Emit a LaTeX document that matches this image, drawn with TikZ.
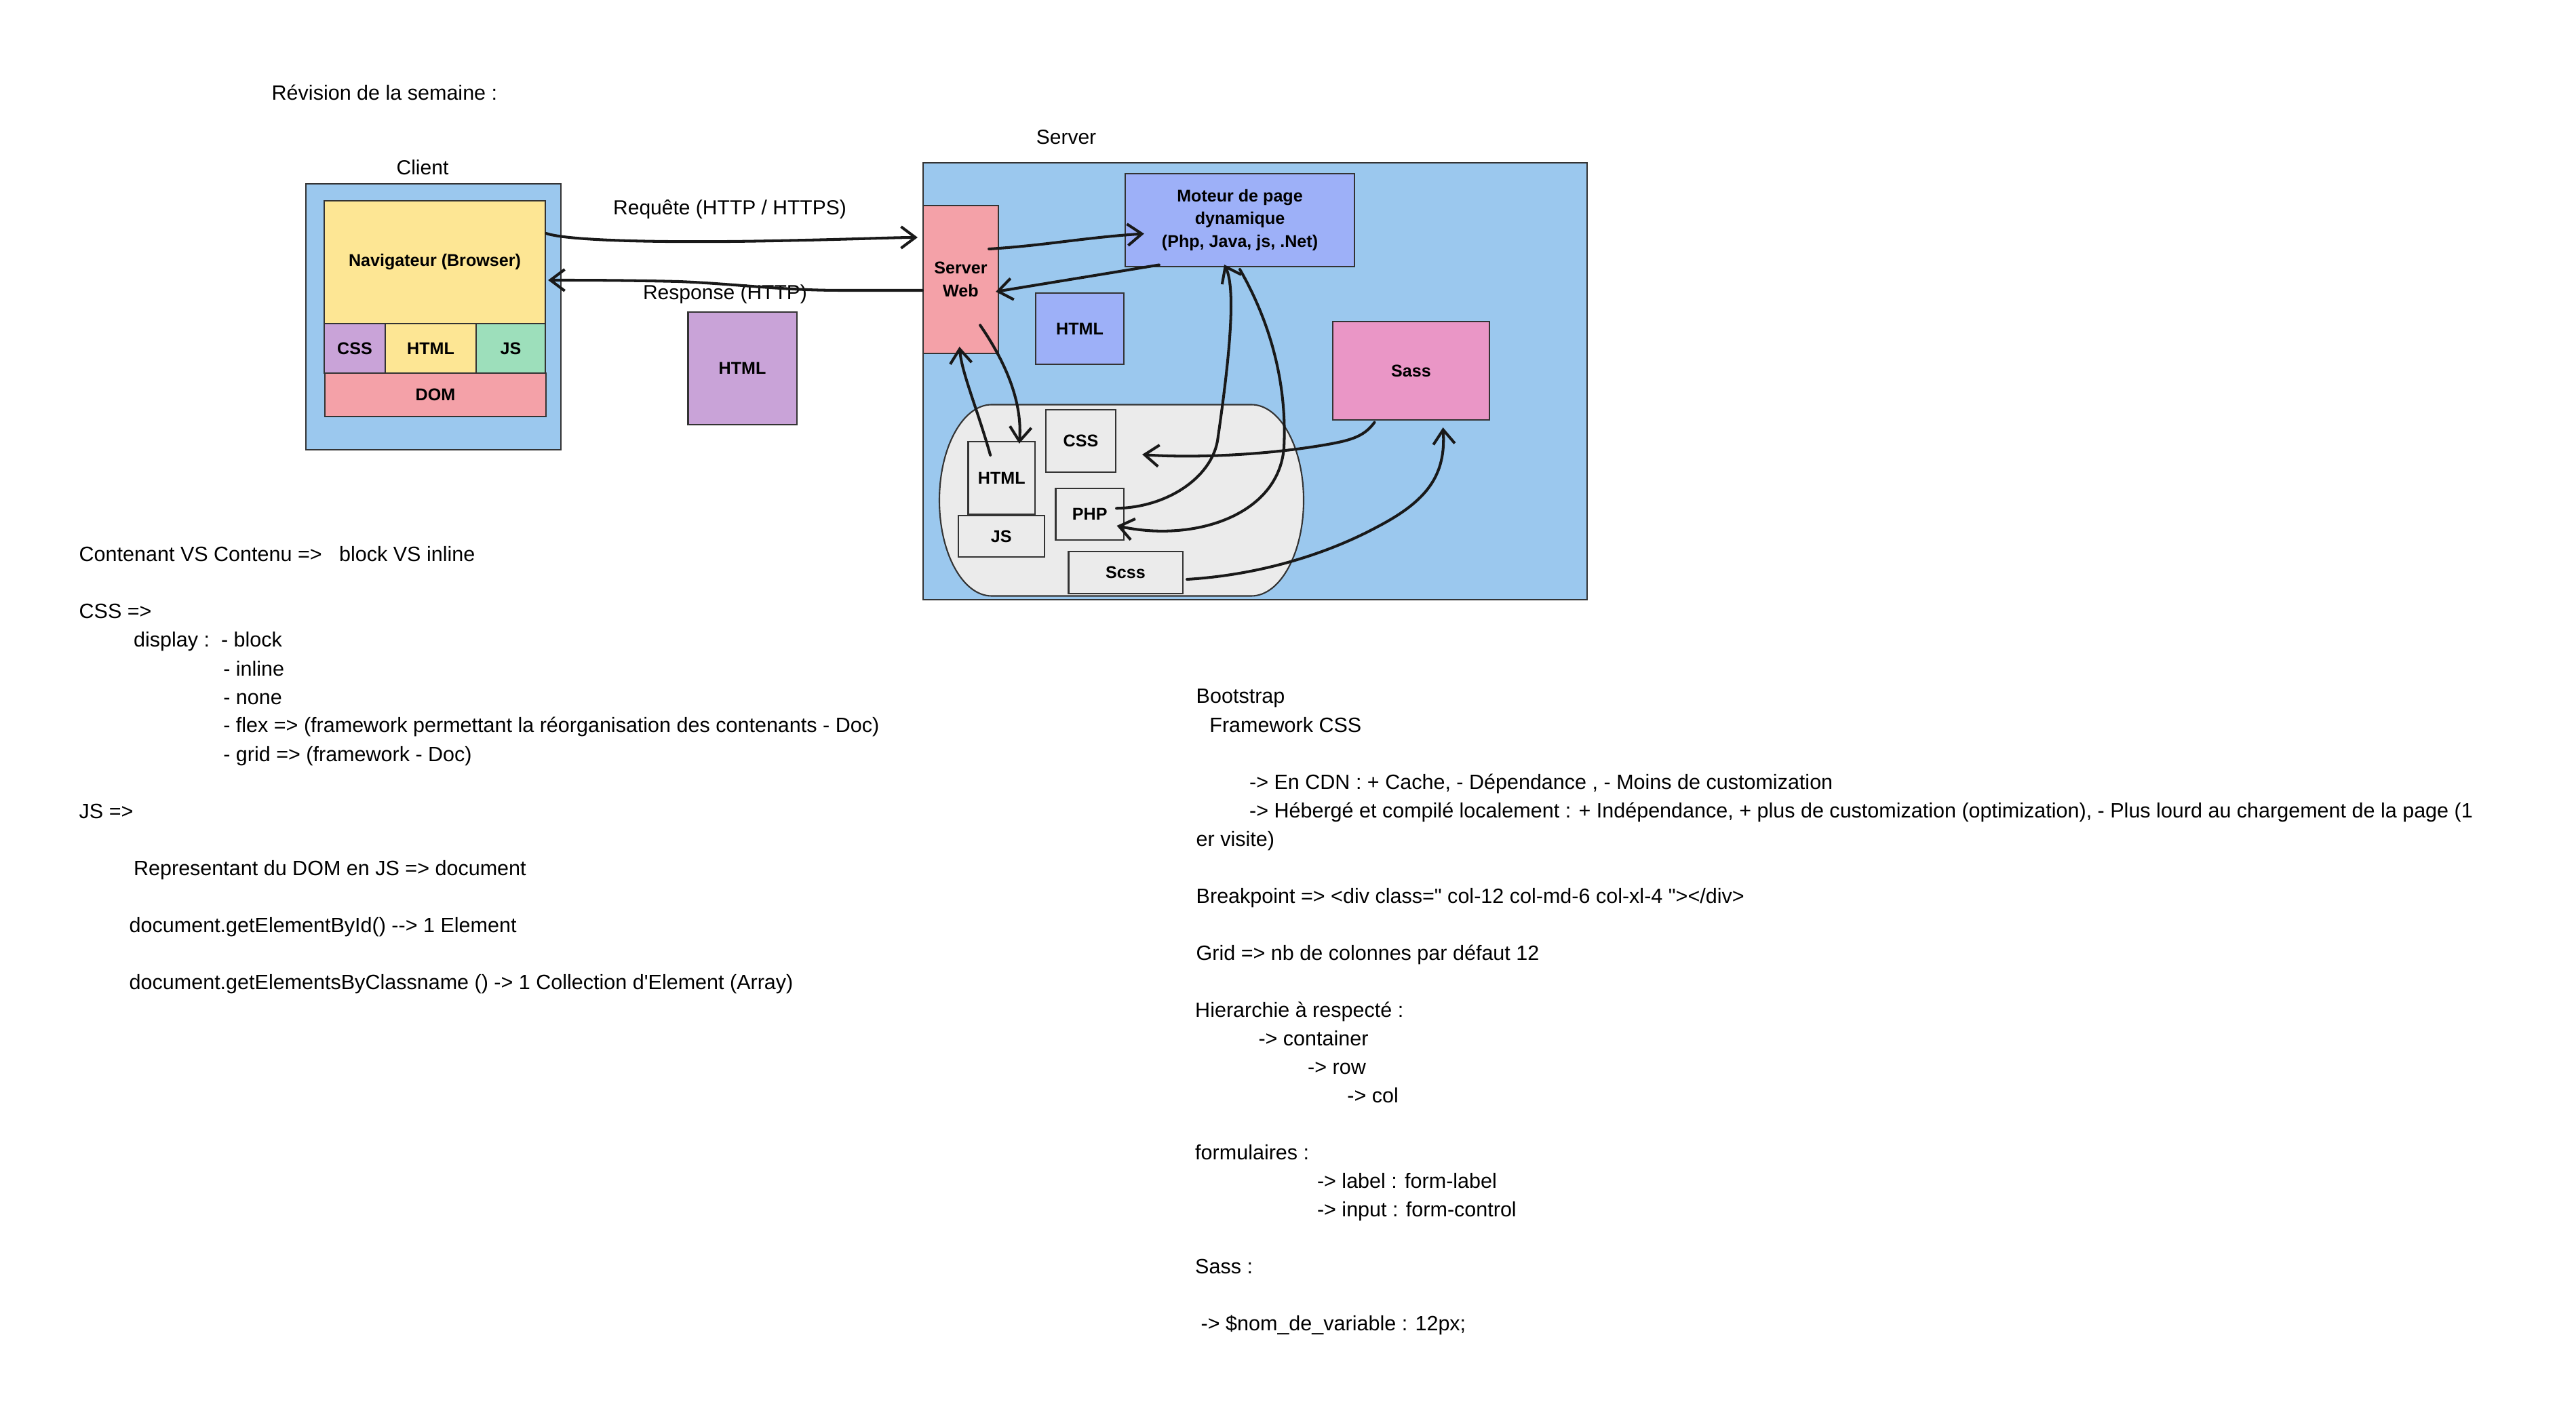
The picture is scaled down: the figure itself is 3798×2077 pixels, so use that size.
\documentclass[tikz,border=0pt]{standalone}
\usepackage{fontspec}
\setmainfont{Liberation Sans}[Ligatures=TeXOff]
\usetikzlibrary{arrows.meta,calc}

\definecolor{paneblue}{RGB}{155,200,238}
\definecolor{navyellow}{RGB}{253,230,148}
\definecolor{lilac}{RGB}{201,163,216}
\definecolor{mint}{RGB}{157,223,187}
\definecolor{rosy}{RGB}{244,161,168}
\definecolor{periwinkle}{RGB}{157,176,248}
\definecolor{sasspink}{RGB}{234,150,198}
\definecolor{lightgrey}{RGB}{235,235,235}

\tikzset{
	box/.style={draw=black!80, line width=0.6pt, inner sep=0pt, align=center, font=\fontsize{7.14}{9.6}\selectfont\bfseries},
	pane/.style={draw=black!80, line width=0.6pt, fill=paneblue, inner sep=0pt},
	note/.style={anchor=base west, inner sep=0pt, font=\fontsize{8.68}{11.95}\selectfont},
	caption/.style={anchor=base, inner sep=0pt, font=\fontsize{8.54}{11.95}\selectfont},
	hand/.style={line width=1.15pt, draw=black!90, line cap=round, line join=round, -{Straight Barb[length=6pt,width=9pt]}},
}

\begin{document}
\begin{tikzpicture}[x=0.01cm, y=-0.01cm]
		%%%%% START %%%%%
		\path[use as bounding box, fill=white] (0, 0) rectangle (3798, 2077);
		
		\node[note] (title) at (400, 148) {Révision de la semaine :};
		
		%% client
		\node[caption] (clientlabel) at (623, 258) {Client};
		\node[pane, minimum width=3.76cm, minimum height=3.92cm] (client) at (639, 467) {};
		\node[box, fill=navyellow, minimum width=3.26cm, minimum height=1.81cm] (nav) at (641, 386.5) {Navigateur (Browser)};
		\node[box, fill=lilac, minimum width=0.90cm, minimum height=0.73cm] (cssC) at (523, 513.5) {CSS};
		\node[box, fill=navyellow, minimum width=1.34cm, minimum height=0.73cm] (htmlC) at (635, 513.5) {HTML};
		\node[box, fill=mint, minimum width=1.02cm, minimum height=0.73cm] (jsC) at (753, 513.5) {JS};
		\node[box, fill=rosy, minimum width=3.26cm, minimum height=0.64cm] (dom) at (642, 582) {DOM};
		
		\node[caption] (reqlabel) at (1076, 317) {Requête (HTTP / HTTPS)};
		\node[caption] (reslabel) at (1069, 442) {Response (HTTP)};
		\node[box, fill=lilac, minimum width=1.60cm, minimum height=1.66cm] (htmlMsg) at (1094.5, 543) {HTML};
		
		%% server
		\node[caption] (serverlabel) at (1572, 213) {Server};
		\node[pane, minimum width=9.79cm, minimum height=6.44cm] (server) at (1850.5, 562) {};
		\node[box, fill=rosy, minimum width=1.11cm, minimum height=2.18cm] (web) at (1416.5, 412) {Server\\Web};
		\node[box, fill=periwinkle, minimum width=3.38cm, minimum height=1.37cm] (moteur) at (1828, 324.5) {Moteur de page\\dynamique\\(Php, Java, js, .Net)};
		\node[box, fill=periwinkle, minimum width=1.30cm, minimum height=1.05cm] (htmlB) at (1592, 484.5) {HTML};
		\node[box, fill=sasspink, minimum width=2.31cm, minimum height=1.45cm] (sass) at (2080.5, 546.5) {Sass};
		
		\draw[line width=0.6pt, draw=black!80, fill=lightgrey] (1462, 596.5) -- (1845, 596.5)
			.. controls (1887.5, 596.5) and (1922, 659.6) .. (1922, 737.5)
			.. controls (1922, 815.4) and (1887.5, 878.5) .. (1845, 878.5) -- (1462, 878.5)
			.. controls (1419.5, 878.5) and (1385, 815.4) .. (1385, 737.5)
			.. controls (1385, 659.6) and (1419.5, 596.5) .. (1462, 596.5) -- cycle;
		\node[box, fill=lightgrey, minimum width=1.03cm, minimum height=0.92cm] (cssG) at (1593.5, 650) {CSS};
		\node[box, fill=lightgrey, minimum width=0.985cm, minimum height=1.075cm] (htmlG) at (1476.75, 704.75) {HTML};
		\node[box, fill=lightgrey, minimum width=1.265cm, minimum height=0.61cm] (jsG) at (1476.25, 790.5) {JS};
		\node[box, fill=lightgrey, minimum width=1.005cm, minimum height=0.76cm] (php) at (1606.75, 758) {PHP};
		\node[box, fill=lightgrey, minimum width=1.68cm, minimum height=0.62cm] (scss) at (1659.5, 844) {Scss};
		
		%% hand drawn arrows
		\draw[hand] ($(nav.east)+(0,-42.5)$) .. controls (840, 356) and (1000, 358) .. (1140, 355)
			.. controls (1250, 353) and (1320, 350) .. ($(web.west)+(-7,-62)$);
		\draw[hand] ($(web.west)+(0,16)$) -- (1240, 428) .. controls (1150, 428) and (1080, 418) .. (1000, 415)
			.. controls (920, 413) and (850, 413) .. ($(nav.east)+(3,26.5)$);
		\draw[hand] ($(web.east)+(-15,-45)$) .. controls (1540, 362) and (1600, 350) .. ($(moteur.west)+(29,20)$);
		\draw[hand] ($(moteur.south west)+(51,-3.6)$) -- ($(web.east)+(-5,18)$);
		\draw[hand] ($(web.south east)+(-28,-42.7)$) .. controls (1480, 530) and (1508, 590) .. ($(htmlG.north)+(26,4)$);
		\draw[hand] ($(htmlG.north)+(-16.6,21)$) .. controls (1440, 600) and (1418, 550) .. ($(web.south)+(-1.9,-11)$);
		\draw[hand] ($(php.east)+(-12,-8.7)$) .. controls (1720, 748) and (1785, 705) .. (1795, 650)
			.. controls (1808, 560) and (1825, 430) .. ($(moteur.south)+(-23,-4)$);
		\draw[hand] ($(moteur.south)+(0,3)$) .. controls (1870, 470) and (1898, 560) .. (1893, 660)
			.. controls (1885, 760) and (1760, 800) .. ($(php.east)+(-11.5,17)$);
		\draw[hand] ($(sass.south)+(-54,2.5)$) .. controls (2010, 645) and (1990, 650) .. (1940, 658)
			.. controls (1850, 672) and (1750, 675) .. ($(cssG.east)+(38,20)$);
		\draw[hand] ($(scss.east)+(5.5,10)$) .. controls (1850, 848) and (1950, 820) .. (2030, 777)
			.. controls (2105, 738) and (2132, 700) .. ($(sass.south)+(47,10)$);
		
		%% notes left
		\node[note] (contenant) at (116, 828) {Contenant VS Contenu =>\ \ \ block VS inline};
		\node[note] (cssnote) at (116, 912) {CSS =>};
		\node[note] (display) at (196.4, 954) {display :\ \ - block};
		\node[note] (inline) at (328.6, 996) {- inline};
		\node[note] (none) at (328.6, 1038) {- none};
		\node[note] (flex) at (328.6, 1080) {- flex => (framework permettant la réorganisation des contenants - Doc)};
		\node[note] (grid) at (328.6, 1122) {- grid => (framework - Doc)};
		\node[note] (jsnote) at (116, 1206) {JS =>};
		\node[note] (representant) at (196.4, 1290) {Representant du DOM en JS => document};
		\node[note] (byid) at (190, 1374) {document.getElementById() --> 1 Element};
		\node[note] (byclass) at (190, 1458) {document.getElementsByClassname () -> 1 Collection d'Element (Array)};
		
		%% notes right
		\node[note] (bootstrap) at (1763, 1037) {Bootstrap};
		\node[note] (framework) at (1782.7, 1079) {Framework CSS};
		\node[note] (cdn) at (1841.4, 1163) {-> En CDN : + Cache, - Dépendance , - Moins de customization};
		\node[note] (local) at (1841.4, 1205) {-> Hébergé et compilé localement : + Indépendance, + plus de customization (optimization), - Plus lourd au chargement de la page (1};
		\node[note] (visite) at (1763, 1247) {er visite)};
		\node[note] (breakpoint) at (1763, 1331) {Breakpoint => <div class=" col-12 col-md-6 col-xl-4 "></div>};
		\node[note] (gridnote) at (1763, 1415) {Grid => nb de colonnes par défaut 12};
		\node[note] (hierarchie) at (1761.5, 1499) {Hierarchie à respecté :};
		\node[note] (container) at (1854.8, 1541) {-> container};
		\node[note] (row) at (1927.5, 1583) {-> row};
		\node[note] (col) at (1985.7, 1625) {-> col};
		\node[note] (formulaires) at (1761.5, 1709) {formulaires :};
		\node[note] (label) at (1941.3, 1751) {-> label : form-label};
		\node[note] (input) at (1941.3, 1793) {-> input : form-control};
		\node[note] (sassnote) at (1761.5, 1877) {Sass :};
		\node[note] (variable) at (1770, 1961) {-> \$nom\_de\_variable : 12px;};
		
		%%%%% END %%%%%
\end{tikzpicture}
\end{document}
